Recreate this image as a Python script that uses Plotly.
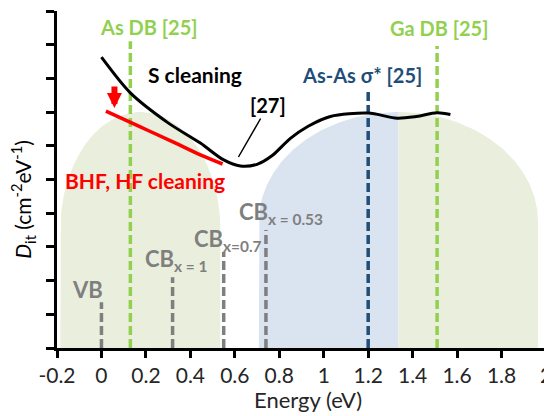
import numpy as np
import plotly.graph_objects as go

# ---- data ----
x_ticks = [-0.2, 0, 0.2, 0.4, 0.6, 0.8, 1, 1.2, 1.4, 1.6, 1.8, 2]
x_tick_labels = ["-0.2", "0", "0.2", "0.4", "0.6", "0.8", "1", "1.2", "1.4", "1.6", "1.8", "2"]

s_clean_x = [0.0, 0.13, 0.30, 0.445, 0.55, 0.625, 0.70, 0.77, 0.85, 0.93, 1.03, 1.2, 1.33, 1.41, 1.51, 1.57]
s_clean_y = [8.63, 7.57, 6.68, 6.08, 5.58, 5.40, 5.45, 5.72, 6.22, 6.58, 6.87, 6.97, 6.82, 6.86, 6.98, 6.93]

hf_clean_x = [0.02, 0.175, 0.324, 0.445, 0.545]
hf_clean_y = [7.03, 6.56, 6.11, 5.73, 5.46]

# distributions (dome: center, half-width, shoulder height, cap height)
dome_left = dict(cx=0.175, a=0.36, cy=3.5, b=3.5)
dome_right = dict(cx=1.336, a=0.628, cy=3.74, b=3.26)

# reference levels
level_names = ["VB", "CBx1", "CBx07", "CBx053", "AsDB", "AsAs", "GaDB"]
level_x = [0.0, 0.32, 0.55, 0.74, 0.13, 1.2, 1.51]
level_top = [1.36, 2.1, 2.85, 3.5, 9.1, 7.6, 8.96]

GREEN_FILL = "#E9EEDD"
BLUE_FILL = "#DAE3F0"
GREEN = "#92D050"
DBLUE = "#1F4E79"
GREY = "#7F7F7F"
RED = "#FF0000"
FONT = "Lato"


def dome(cx, a, cy, b, side="both", n=80):
    if side == "both":
        t = np.linspace(np.pi, 0, n)
    elif side == "left":
        t = np.linspace(np.pi, np.pi / 2, n)
    else:
        t = np.linspace(np.pi / 2, 0, n)
    xs = cx + a * np.cos(t)
    ys = cy + b * np.sin(t)
    x_start, x_end = xs[0], xs[-1]
    X = np.concatenate([[x_start], xs, [x_end], [x_start]])
    Y = np.concatenate([[0], ys, [0], [0]])
    return X, Y


fig = go.Figure()

for d, side, col in [(dome_left, "both", GREEN_FILL), (dome_right, "left", BLUE_FILL), (dome_right, "right", GREEN_FILL)]:
    X, Y = dome(d["cx"], d["a"], d["cy"], d["b"], side)
    fig.add_trace(go.Scatter(x=X, y=Y, mode="lines", fill="toself", fillcolor=col,
                             line=dict(width=0, color=col), hoverinfo="skip", showlegend=False))

level_colors = [GREY, GREY, GREY, GREY, GREEN, DBLUE, GREEN]
for name, lx, lt, c in zip(level_names, level_x, level_top, level_colors):
    fig.add_trace(go.Scatter(x=[lx, lx], y=[0, lt], mode="lines",
                             line=dict(color=c, width=3.5, dash="9px,4px"),
                             showlegend=False, hoverinfo="skip"))

fig.add_trace(go.Scatter(x=s_clean_x, y=s_clean_y, mode="lines",
                         line=dict(color="black", width=3, shape="spline", smoothing=0.8),
                         showlegend=False))
fig.add_trace(go.Scatter(x=hf_clean_x, y=hf_clean_y, mode="lines",
                         line=dict(color=RED, width=3.5, shape="spline"),
                         showlegend=False))

ann = []


def txt(x, y, s, color, size=21, bold=True):
    ann.append(dict(x=x, y=y, xref="x", yref="y", text=("<b>%s</b>" % s) if bold else s,
                    showarrow=False, font=dict(family=FONT, size=size, color=color)))


def px2x(px):
    return (px - 101) / 222.3


def px2y(py):
    return (348 - py) / 33.7


txt(px2x(149), px2y(27), "As DB [25]", GREEN, 20)
txt(px2x(439), px2y(28), "Ga DB [25]", GREEN, 20)
txt(px2x(362), px2y(75), "As-As σ* [25]", DBLUE, 20)
txt(px2x(195), px2y(74), "S cleaning", "black")
txt(px2x(145), px2y(180), "BHF, HF cleaning", RED)
txt(px2x(87), px2y(289), "VB", GREY, 22)
txt(px2x(176), px2y(260), "CB<sub>x = 1</sub>", GREY, 22)
txt(px2x(228), px2y(240), "CB<sub>x=0.7</sub>", GREY, 22)
txt(px2x(281), px2y(213), "CB<sub>x = 0.53</sub>", GREY, 22)

ann.append(dict(x=px2x(238), y=px2y(157), xref="x", yref="y", ax=px2x(268), ay=px2y(105),
                axref="x", ayref="y", text="<b>[27]</b>", showarrow=True, arrowhead=0,
                arrowwidth=1.5, arrowcolor="black", font=dict(family=FONT, size=20, color="black")))
ann.append(dict(x=px2x(114), y=px2y(108), xref="x", yref="y", ax=px2x(114), ay=px2y(85),
                axref="x", ayref="y", text="", showarrow=True, arrowhead=2, arrowsize=0.5,
                arrowwidth=6, arrowcolor=RED))
ann.append(dict(x=-0.0695, y=0.44, xref="paper", yref="paper", textangle=-90, showarrow=False,
                xanchor="center", yanchor="middle",
                text="<i>D</i><sub>it</sub> (cm<sup>-2</sup>eV<sup>-1</sup>)",
                font=dict(family=FONT, size=21, color="black")))
ann.append(dict(x=0.513, y=-0.154, xref="paper", yref="paper", showarrow=False, yanchor="middle",
                text="Energy (eV)", font=dict(family=FONT, size=22, color="#262626")))

# page body has an 8px margin, so the figure is sized to the remaining area
fig.update_layout(
    width=544, height=408,
    margin=dict(l=49, r=6, t=3, b=68),
    paper_bgcolor="white", plot_bgcolor="white",
    annotations=ann,
    xaxis=dict(range=[-0.2, 2], tickvals=x_ticks, ticktext=x_tick_labels, showgrid=False, zeroline=False,
               automargin=False, ticklabeloverflow="allow",
               showline=True, linecolor="black", linewidth=3, ticks="outside", ticklen=7, tickwidth=3,
               tickcolor="black", tickfont=dict(family=FONT, size=21, color="#262626")),
    yaxis=dict(range=[0, 10], tickvals=list(range(0, 11)), showticklabels=False, showgrid=False,
               automargin=False,
               zeroline=False, showline=True, linecolor="black", linewidth=3, ticks="outside",
               ticklen=8, tickwidth=3, tickcolor="black"),
)

fig.write_html("out.html")
